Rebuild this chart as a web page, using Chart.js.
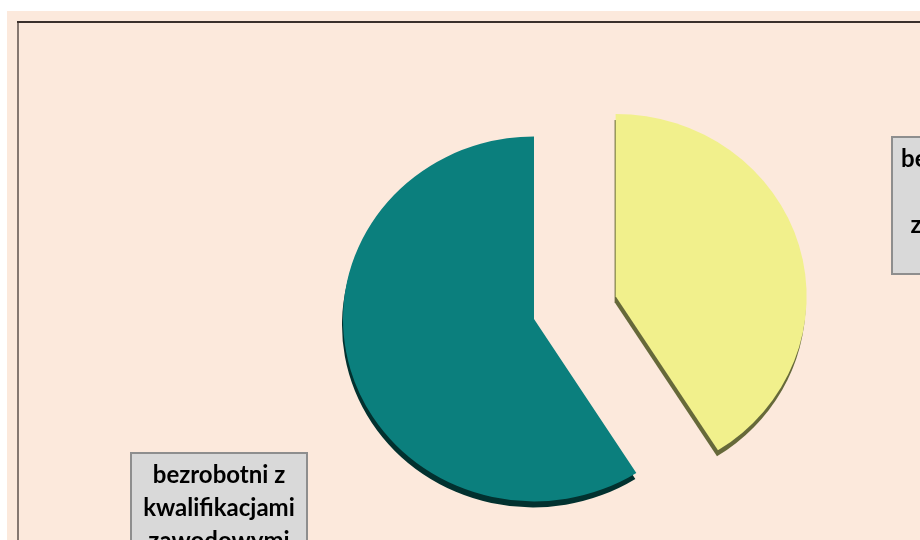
<!DOCTYPE html>
<html>
<head>
<meta charset="utf-8">
<script src="https://cdn.jsdelivr.net/npm/chart.js@4"></script>
<style>
  html, body { margin: 0; padding: 0; background: #ffffff; }
  #wrap { position: relative; width: 920px; height: 540px; }
</style>
</head>
<body>
<div id="wrap"><canvas id="c" width="920" height="540"></canvas></div>
<script>
// ---- data ----
const categories = ["bezrobotni bez kwalifikacji zawodowych", "bezrobotni z kwalifikacjami zawodowymi"];
const labelLines = [["bezrobotni bez", "kwalifikacji", "zawodowych"], ["bezrobotni z", "kwalifikacjami", "zawodowymi"]];
const shares = [41, 59];

// ---- styles ----
const faceColors = ["#f1f08c", "#0b7f7d"];
const sideColors = ["#66693a", "#02312f"];
const explode = [85, 0];
const squash = 0.955;

const backgroundPlugin = {
  id: 'bg',
  beforeDraw(chart) {
    const ctx = chart.ctx;
    ctx.save();
    ctx.fillStyle = '#ffffff';
    ctx.fillRect(0, 0, 920, 540);
    ctx.fillStyle = '#fce9dc';
    ctx.fillRect(7, 11, 913, 529);
    ctx.strokeStyle = '#857770';
    ctx.lineWidth = 2;
    ctx.beginPath();
    ctx.moveTo(18, 540);
    ctx.lineTo(18, 22);
    ctx.stroke();
    ctx.strokeStyle = '#3a302c';
    ctx.beginPath();
    ctx.moveTo(17, 22);
    ctx.lineTo(920, 22);
    ctx.stroke();
    ctx.restore();
  }
};

function explodeShift(arc, i) {
  const p = arc.getProps(['startAngle', 'endAngle'], true);
  const mid = (p.startAngle + p.endAngle) / 2;
  return [Math.cos(mid) * explode[i], Math.sin(mid) * explode[i]];
}

const pie3dPlugin = {
  id: 'pie3d',
  beforeDatasetsDraw(chart) {
    const ctx = chart.ctx;
    const meta = chart.getDatasetMeta(0);
    const first = meta.data[0];
    const c = first.getProps(['x', 'y'], true);
    meta.data.forEach((arc, i) => {
      const p = arc.getProps(['x', 'y', 'startAngle', 'endAngle', 'outerRadius'], true);
      const [dx, dy] = explodeShift(arc, i);
      ctx.save();
      ctx.translate(-1, 6);
      ctx.translate(c.x, c.y);
      ctx.scale(1, squash);
      ctx.translate(-c.x, -c.y);
      ctx.beginPath();
      ctx.moveTo(p.x + dx, p.y + dy);
      ctx.arc(p.x + dx, p.y + dy, p.outerRadius, p.startAngle, p.endAngle);
      ctx.closePath();
      ctx.fillStyle = sideColors[i];
      ctx.fill();
      ctx.restore();
    });
    meta.data.forEach((arc, i) => {
      const [dx, dy] = explodeShift(arc, i);
      ctx.save();
      ctx.translate(c.x, c.y);
      ctx.scale(1, squash);
      ctx.translate(-c.x, -c.y);
      ctx.translate(dx, dy);
      arc.draw(ctx);
      ctx.restore();
    });
    return false;
  }
};

const labelBoxPlugin = {
  id: 'labelBoxes',
  afterDraw(chart) {
    const ctx = chart.ctx;
    ctx.save();
    ctx.font = 'bold 24px Lato, "Open Sans", sans-serif';
    const rightW = Math.ceil(ctx.measureText(labelLines[0][0]).width) + 18;
    const boxes = [
      { x: 892, y: 137, w: rightW, h: 137 },
      { x: 131, y: 453, w: 176, h: 137 }
    ];
    boxes.forEach((b, i) => {
      ctx.fillStyle = '#d9d9d9';
      ctx.fillRect(b.x, b.y, b.w, b.h);
      ctx.strokeStyle = '#8e8e8e';
      ctx.lineWidth = 2;
      ctx.strokeRect(b.x, b.y, b.w, b.h);
      ctx.fillStyle = '#000000';
      ctx.textAlign = 'center';
      ctx.textBaseline = 'middle';
      labelLines[i].forEach((line, k) => {
        ctx.fillText(line, b.x + b.w / 2, b.y + 22 + k * 33);
      });
    });
    ctx.restore();
  }
};

new Chart(document.getElementById('c'), {
  type: 'pie',
  data: {
    labels: categories,
    datasets: [{
      data: shares,
      backgroundColor: faceColors,
      borderWidth: 0,
      offset: 0,
      hoverOffset: 0,
      radius: 191
    }]
  },
  options: {
    responsive: false,
    animation: false,
    events: [],
    layout: { padding: { left: 148, right: 0, top: 98, bottom: 0 } },
    plugins: {
      legend: { display: false },
      tooltip: { enabled: false },
      title: { display: false }
    }
  },
  plugins: [backgroundPlugin, pie3dPlugin, labelBoxPlugin]
});
</script>
</body>
</html>
